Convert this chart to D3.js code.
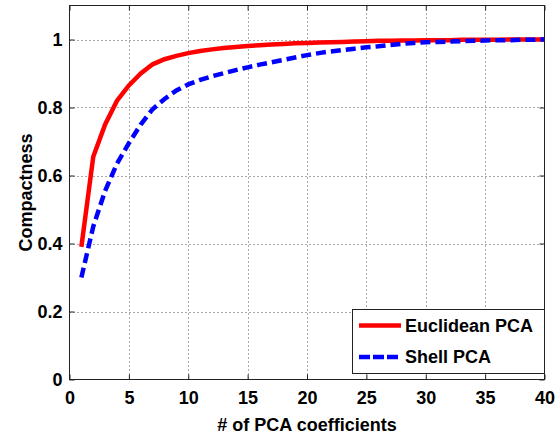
<!DOCTYPE html>
<html>
<head>
<meta charset="utf-8">
<script src="https://cdn.jsdelivr.net/npm/d3@7"></script>
<style>
  body { margin: 0; background: #fff; }
  svg text { font-family: "Liberation Sans", Arial, sans-serif; font-weight: bold; fill: #000; }
</style>
</head>
<body>
<div class="viz"></div>
<script>
// number of PCA coefficients
const coeffs = d3.range(1, 41);

// compactness values
const euclidean = [0.39, 0.655, 0.75, 0.82, 0.865, 0.9, 0.927, 0.942, 0.952, 0.96,
  0.966, 0.971, 0.975, 0.978, 0.981, 0.983, 0.985, 0.987, 0.989, 0.99,
  0.991, 0.992, 0.993, 0.994, 0.995, 0.996, 0.996, 0.997, 0.997, 0.998,
  0.998, 0.998, 0.999, 0.999, 0.999, 0.999, 1.0, 1.0, 1.0, 1.0];
const shell = [0.30, 0.45, 0.555, 0.635, 0.695, 0.75, 0.795, 0.825, 0.85, 0.868,
  0.881, 0.892, 0.901, 0.91, 0.918, 0.926, 0.933, 0.94, 0.947, 0.954,
  0.96, 0.965, 0.969, 0.973, 0.977, 0.98, 0.984, 0.987, 0.99, 0.992,
  0.993, 0.994, 0.995, 0.996, 0.997, 0.998, 0.998, 0.999, 0.999, 1.0];

const xTicks = [0, 5, 10, 15, 20, 25, 30, 35, 40];
const yTicks = [0, 0.2, 0.4, 0.6, 0.8, 1];
const seriesNames = ["Euclidean PCA", "Shell PCA"];

const width = 560, height = 435;
const plot = { left: 69.5, right: 544.5, top: 5.5, bottom: 379.5 };
const fontSize = "18px";

const svg = d3.select(".viz").append("svg")
  .attr("width", width)
  .attr("height", height);

const x = d3.scaleLinear().domain([0, 40]).range([plot.left, plot.right]);
const y = d3.scaleLinear().domain([0, 1.1]).range([plot.bottom, plot.top]);

// grid (dotted)
const grid = svg.append("g").attr("stroke", "#555").attr("stroke-width", 1).attr("stroke-dasharray", "1,3");
grid.selectAll(".gx").data(xTicks.slice(1, -1)).enter().append("line")
  .attr("x1", d => Math.round(x(d)) + 0.5).attr("x2", d => Math.round(x(d)) + 0.5)
  .attr("y1", plot.top).attr("y2", plot.bottom);
grid.selectAll(".gy").data(yTicks.slice(1)).enter().append("line")
  .attr("y1", d => Math.round(y(d)) + 0.5).attr("y2", d => Math.round(y(d)) + 0.5)
  .attr("x1", plot.left).attr("x2", plot.right);

// axes with inward ticks, MATLAB box style
const tick = 5;
svg.append("g")
  .attr("transform", "translate(0," + plot.bottom + ")")
  .call(d3.axisBottom(x).tickValues(xTicks).tickSize(-tick).tickPadding(12).tickSizeOuter(0))
  .call(g => g.select(".domain").remove());
svg.append("g")
  .attr("transform", "translate(0," + plot.top + ")")
  .call(d3.axisTop(x).tickValues(xTicks).tickSize(-tick).tickFormat("").tickSizeOuter(0))
  .call(g => g.select(".domain").remove());
svg.append("g")
  .attr("transform", "translate(" + plot.left + ",0)")
  .call(d3.axisLeft(y).tickValues(yTicks).tickSize(-tick).tickPadding(7).tickFormat(d3.format("")).tickSizeOuter(0))
  .call(g => g.select(".domain").remove());
svg.append("g")
  .attr("transform", "translate(" + plot.right + ",0)")
  .call(d3.axisRight(y).tickValues(yTicks).tickSize(-tick).tickFormat("").tickSizeOuter(0))
  .call(g => g.select(".domain").remove());

svg.selectAll(".tick line").attr("stroke", "#222");
svg.selectAll(".tick text").style("font-size", fontSize).style("font-family", "Liberation Sans, Arial, sans-serif").style("font-weight", "bold").attr("fill", "#000");

// lines
const line = d3.line().x((d, i) => x(coeffs[i])).y(d => y(d));
svg.append("path").datum(euclidean)
  .attr("d", line).attr("fill", "none")
  .attr("stroke", "#ff0000").attr("stroke-width", 4.5);
svg.append("path").datum(shell)
  .attr("d", line).attr("fill", "none")
  .attr("stroke", "#0000ff").attr("stroke-width", 4.5)
  .attr("stroke-dasharray", "10,5");

// box
svg.append("rect")
  .attr("x", plot.left).attr("y", plot.top)
  .attr("width", plot.right - plot.left).attr("height", plot.bottom - plot.top)
  .attr("fill", "none").attr("stroke", "#222").attr("stroke-width", 1);

// axis labels
svg.append("text")
  .attr("x", (plot.left + plot.right) / 2).attr("y", 431)
  .attr("text-anchor", "middle").style("font-size", fontSize)
  .text("# of PCA coefficients");
svg.append("text")
  .attr("transform", "translate(32," + (plot.top + plot.bottom) / 2 + ") rotate(-90)")
  .attr("text-anchor", "middle").style("font-size", fontSize)
  .text("Compactness");

// legend
const legend = svg.append("g").attr("id", "legend");
legend.append("rect")
  .attr("x", 352.5).attr("y", 309.5).attr("width", 192).attr("height", 64)
  .attr("fill", "#fff").attr("stroke", "#222").attr("stroke-width", 1);
const legendColors = ["#ff0000", "#0000ff"];
const legendDash = [null, "11,3"];
const legendY = d3.scalePoint().domain(seriesNames).range([325.5, 357]);
seriesNames.forEach((name, i) => {
  legend.append("line")
    .attr("x1", 359).attr("x2", 401)
    .attr("y1", legendY(name)).attr("y2", legendY(name))
    .attr("stroke", legendColors[i]).attr("stroke-width", 4.5)
    .attr("stroke-dasharray", legendDash[i]);
  legend.append("text")
    .attr("x", 405).attr("y", legendY(name) + 6)
    .style("font-size", fontSize)
    .text(name);
});
</script>
</body>
</html>
